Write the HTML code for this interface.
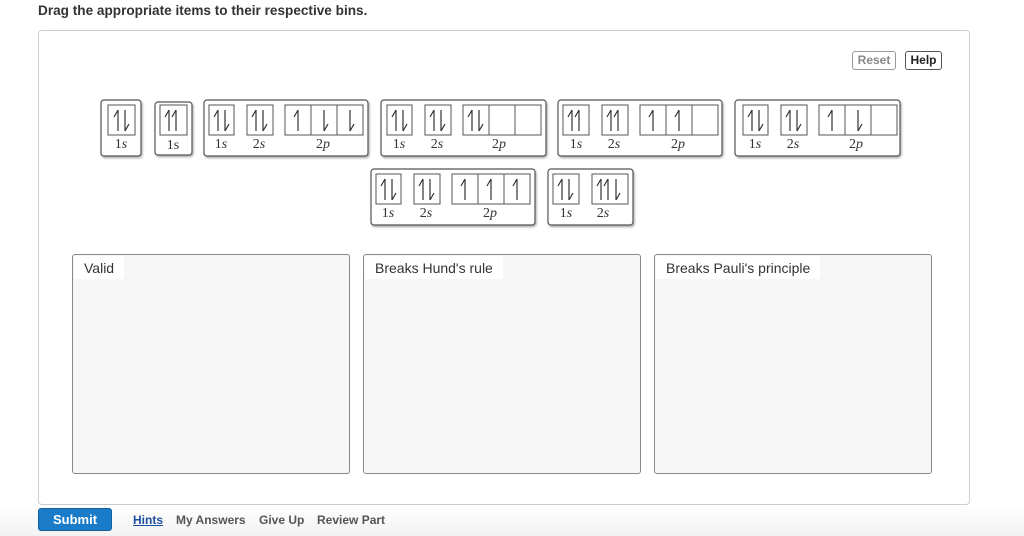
<!DOCTYPE html>
<html><head><meta charset="utf-8"><style>
body{margin:0;width:1024px;height:536px;background:#fff;position:relative;overflow:hidden;font-family:"Liberation Sans",Arial,sans-serif}
.t{position:absolute;left:38px;top:3px;font-size:13.6px;font-weight:bold;color:#333}
.c{position:absolute;left:38px;top:30px;width:930px;height:473px;border:1px solid #ccc;border-radius:4px}
.btn{position:absolute;top:51px;height:17px;border:1px solid #555;border-radius:3px;font-size:12px;font-weight:bold;line-height:17px;text-align:center;background:#fff}
.bin{position:absolute;top:254px;width:276px;height:218px;border:1px solid #888;border-radius:3px;background:#f7f7f7}
.bin span{position:absolute;left:1px;top:1px;background:#fff;padding:4px 10px 3px 10px;font-size:14px;color:#333}
.foot{position:absolute;top:513px;font-size:12px;font-weight:bold;color:#555}
.bot{position:absolute;left:0;top:505px;width:1024px;height:31px;background:linear-gradient(#fff,#f2f2f2)}
</style></head><body>
<div class="bot"></div>
<div class="t">Drag the appropriate items to their respective bins.</div>
<div class="c"></div>
<div class="btn" style="left:852px;width:42px;color:#888;border-color:#999">Reset</div>
<div class="btn" style="left:905px;width:35px;color:#222">Help</div>
<svg style="position:absolute;left:0;top:0" width="1024" height="240">
<defs>
<g id="u" stroke="#333" stroke-width="1.2" fill="none"><path d="M0,26V5M0,5L-4,12"/></g>
<g id="d" stroke="#333" stroke-width="1.2" fill="none"><path d="M0,5V26M0,26L4,19"/></g>
<filter id="sh"><feDropShadow dx="1" dy="1.5" stdDeviation="1" flood-color="#000" flood-opacity="0.35"/></filter>
</defs>
<g fill="#fff" stroke="#555" stroke-width="1.2" filter="url(#sh)">
<rect x="101" y="100" width="40" height="56" rx="3"/>
<rect x="155" y="102" width="37" height="53" rx="3"/>
<rect x="204" y="100" width="164" height="56" rx="3"/>
<rect x="381" y="100" width="165" height="56" rx="3"/>
<rect x="558" y="100" width="164" height="56" rx="3"/>
<rect x="735" y="100" width="165" height="56" rx="3"/>
<rect x="371" y="169" width="164" height="56" rx="3"/>
<rect x="548" y="169" width="85" height="56" rx="3"/>
</g>
<g fill="none" stroke="#555" stroke-width="1">
<rect x="108" y="105" width="27" height="30"/>
<rect x="160" y="105" width="27" height="30"/>
<rect x="209" y="105" width="25" height="30"/><rect x="247" y="105" width="26" height="30"/><rect x="285" y="105" width="78" height="30"/><path d="M311,105v30M337,105v30"/>
<rect x="387" y="105" width="25" height="30"/><rect x="425" y="105" width="26" height="30"/><rect x="463" y="105" width="78" height="30"/><path d="M489,105v30M515,105v30"/>
<rect x="563" y="105" width="26" height="30"/><rect x="602" y="105" width="26" height="30"/><rect x="640" y="105" width="78" height="30"/><path d="M666,105v30M692,105v30"/>
<rect x="743" y="105" width="25" height="30"/><rect x="781" y="105" width="26" height="30"/><rect x="819" y="105" width="78" height="30"/><path d="M845,105v30M871,105v30"/>
<rect x="376" y="174" width="25" height="30"/><rect x="414" y="174" width="26" height="30"/><rect x="452" y="174" width="78" height="30"/><path d="M478,174v30M504,174v30"/>
<rect x="553" y="174" width="26" height="30"/><rect x="592" y="174" width="36" height="30"/>
</g>
<g transform="translate(0,105)">
<use href="#u" x="118"/><use href="#d" x="125"/>
<use href="#u" x="169"/><use href="#u" x="176"/>
<use href="#u" x="218"/><use href="#d" x="225"/><use href="#u" x="256"/><use href="#d" x="263"/><use href="#u" x="298"/><use href="#d" x="324"/><use href="#d" x="350"/>
<use href="#u" x="396"/><use href="#d" x="403"/><use href="#u" x="434"/><use href="#d" x="441"/><use href="#u" x="472"/><use href="#d" x="479"/>
<use href="#u" x="572"/><use href="#u" x="579"/><use href="#u" x="611"/><use href="#u" x="618"/><use href="#u" x="653"/><use href="#u" x="679"/>
<use href="#u" x="752"/><use href="#d" x="759"/><use href="#u" x="790"/><use href="#d" x="797"/><use href="#u" x="832"/><use href="#d" x="858"/>
</g>
<g transform="translate(0,174)">
<use href="#u" x="385"/><use href="#d" x="392"/><use href="#u" x="423"/><use href="#d" x="430"/><use href="#u" x="465"/><use href="#u" x="491"/><use href="#u" x="517"/>
<use href="#u" x="562"/><use href="#d" x="569"/><use href="#u" x="601"/><use href="#u" x="608"/><use href="#d" x="616"/>
</g>
<g font-family="Liberation Serif,serif" font-size="14" fill="#333" text-anchor="middle">
<text x="121" y="148">1<tspan font-style="italic">s</tspan></text>
<text x="173" y="149">1s</text>
<text x="221" y="148">1<tspan font-style="italic">s</tspan></text><text x="259" y="148">2<tspan font-style="italic">s</tspan></text><text x="323" y="148">2<tspan font-style="italic">p</tspan></text>
<text x="399" y="148">1<tspan font-style="italic">s</tspan></text><text x="437" y="148">2<tspan font-style="italic">s</tspan></text><text x="499" y="148">2<tspan font-style="italic">p</tspan></text>
<text x="576" y="148">1<tspan font-style="italic">s</tspan></text><text x="614" y="148">2<tspan font-style="italic">s</tspan></text><text x="678" y="148">2<tspan font-style="italic">p</tspan></text>
<text x="755" y="148">1<tspan font-style="italic">s</tspan></text><text x="793" y="148">2<tspan font-style="italic">s</tspan></text><text x="856" y="148">2<tspan font-style="italic">p</tspan></text>
<text x="388" y="217">1<tspan font-style="italic">s</tspan></text><text x="426" y="217">2<tspan font-style="italic">s</tspan></text><text x="490" y="217">2<tspan font-style="italic">p</tspan></text>
<text x="566" y="217">1<tspan font-style="italic">s</tspan></text><text x="603" y="217">2<tspan font-style="italic">s</tspan></text>
</g>
</svg>
<div class="bin" style="left:72px"><span>Valid</span></div>
<div class="bin" style="left:363px"><span>Breaks Hund's rule</span></div>
<div class="bin" style="left:654px"><span>Breaks Pauli's principle</span></div>
<div style="position:absolute;left:38px;top:508px;width:74px;height:23px;background:#1a7bc8;border:1px solid #14609c;border-radius:3px;box-sizing:border-box;color:#fff;font-size:13px;font-weight:bold;text-align:center;line-height:21px">Submit</div>
<div class="foot" style="left:133px;color:#1f4fa0;text-decoration:underline">Hints</div>
<div class="foot" style="left:176px">My Answers</div>
<div class="foot" style="left:259px">Give Up</div>
<div class="foot" style="left:317px">Review Part</div>
</body></html>
